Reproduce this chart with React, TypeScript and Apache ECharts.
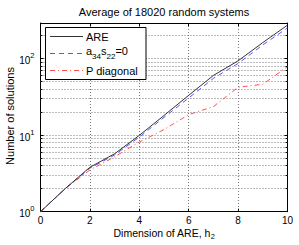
import React, { useEffect, useRef } from 'react';
import * as echarts from 'echarts';

const dims = [0, 1, 2, 3, 4, 5, 6, 7, 8, 9, 10];
const areValues = [1, 2.0, 3.8, 5.7, 9.9, 18, 33, 60, 93, 161, 272];
const a34Values = [1, 2.0, 3.7, 5.5, 9.4, 17, 30.5, 55, 86, 150, 250];
const pDiagValues = [1, 2.0, 3.5, 5.2, 8.1, 11.8, 18.5, 23.5, 42, 46, 78];
const minorYValues = [2, 3, 4, 5, 6, 7, 8, 9, 20, 30, 40, 50, 60, 70, 80, 90, 200];
const titleText = 'Average of 18020 random systems';
const xMin = 0;
const xMax = 10;
const xInterval = 2;
const yMin = 1;
const yMax = 290;

const FONT = "'Liberation Sans', Arial, Helvetica, sans-serif";
const BLACK = '#333';
const BLUE = '#5555ff';
const RED = '#ff5050';

export default function App() {
  const ref = useRef<HTMLDivElement>(null);
  useEffect(() => {
    if (!ref.current) return;
    const chart = echarts.init(ref.current, null, { renderer: 'svg' });
    const gridLine = { color: '#777', width: 1, type: [1, 2] as any };
    const sup = {
      b: { fontSize: 10, fontFamily: FONT, color: '#000', verticalAlign: 'bottom', lineHeight: 14 },
      s: { fontSize: 7.5, fontFamily: FONT, color: '#000', verticalAlign: 'top', lineHeight: 14 },
    };
    const minorTickLines: any[] = [];
    minorYValues.forEach((v) => {
      minorTickLines.push([{ coord: [xMin, v] }, { coord: [xMin + 0.08, v] }]);
      minorTickLines.push([{ coord: [xMax - 0.08, v] }, { coord: [xMax, v] }]);
    });
    const xy = (vals: number[]) => dims.map((d, i) => [d, vals[i]]);
    const option: any = {
      animation: false,
      backgroundColor: '#fff',
      textStyle: { fontFamily: FONT },
      grid: { left: 40.5, right: 11.5, top: 23, bottom: 33.3, outerBoundsMode: 'none', containLabel: false },
      xAxis: [
        {
          type: 'value', min: xMin, max: xMax, interval: xInterval,
          axisLine: { show: true, onZero: false, lineStyle: { color: '#000', width: 1 } },
          axisTick: { show: true, inside: true, length: 3, lineStyle: { color: '#000' } },
          axisLabel: { color: '#000', fontSize: 10, lineHeight: 8, fontFamily: FONT, margin: 5 },
          splitLine: { show: true, lineStyle: gridLine },
        },
        {
          type: 'value', min: xMin, max: xMax, interval: xInterval, position: 'top',
          axisLine: { show: true, onZero: false, lineStyle: { color: '#000', width: 1 } },
          axisTick: { show: true, inside: true, length: 3, lineStyle: { color: '#000' } },
          axisLabel: { show: false },
          splitLine: { show: false },
        },
      ],
      yAxis: [
        {
          type: 'log', logBase: 10, min: yMin, max: yMax,
          axisLine: { show: true, onZero: false, lineStyle: { color: '#000', width: 1 } },
          axisTick: { show: true, inside: true, length: 3, lineStyle: { color: '#000' } },
          axisLabel: {
            showMaxLabel: false,
            margin: 6,
            formatter: (v: number) => `{b|10}{s|${Math.round(Math.log10(v))}}`,
            rich: sup,
          },
          splitLine: { show: true, lineStyle: gridLine },
        },
        {
          type: 'log', logBase: 10, min: yMin, max: yMax, position: 'right',
          axisLine: { show: true, onZero: false, lineStyle: { color: '#000', width: 1 } },
          axisTick: { show: true, inside: true, length: 3, lineStyle: { color: '#000' } },
          axisLabel: { show: false },
          splitLine: { show: false },
        },
      ],
      series: [
        {
          type: 'line', name: 'minorGrid', data: [], silent: true, z: 1,
          markLine: {
            silent: true, symbol: 'none', label: { show: false },
            lineStyle: gridLine,
            data: minorYValues.map((v) => ({ yAxis: v })),
          },
        },
        {
          type: 'line', name: 'minorTicks', data: [], silent: true, z: 1,
          markLine: {
            silent: true, symbol: 'none', label: { show: false },
            lineStyle: { color: '#000', width: 1, type: 'solid' },
            data: minorTickLines,
          },
        },
        {
          type: 'line', name: 'ARE', data: xy(areValues), showSymbol: false, z: 5,
          lineStyle: { color: BLACK, width: 1, type: 'solid' },
        },
        {
          type: 'line', name: 'a34s22=0', data: xy(a34Values), showSymbol: false, z: 4,
          lineStyle: { color: BLUE, width: 1, type: [5, 4] },
        },
        {
          type: 'line', name: 'P diagonal', data: xy(pDiagValues), showSymbol: false, z: 3,
          lineStyle: { color: RED, width: 1, type: [5, 3, 1, 3] },
        },
      ],
      graphic: [
        {
          type: 'text', x: 164, y: 12, z: 10,
          style: { text: titleText, fontSize: 11, fontFamily: FONT, fill: '#000', align: 'center', verticalAlign: 'middle' },
        },
        {
          type: 'text', x: 164, y: 234, z: 10,
          style: {
            text: '{n|Dimension of ARE, h}{u|2}', align: 'center', verticalAlign: 'middle',
            rich: {
              n: { fontSize: 10.5, fontFamily: FONT, fill: '#000', verticalAlign: 'top', lineHeight: 13 },
              u: { fontSize: 7.5, fontFamily: FONT, fill: '#000', verticalAlign: 'bottom', lineHeight: 13 },
            },
          },
        },
        {
          type: 'text', x: 10, y: 116, rotation: Math.PI / 2, z: 10,
          style: { text: 'Number of solutions', fontSize: 11, fontFamily: FONT, fill: '#000', align: 'center', verticalAlign: 'middle' },
        },
        {
          type: 'rect', z: 20,
          shape: { x: 45.5, y: 27.5, width: 100.5, height: 52 },
          style: { fill: '#fff', stroke: '#000', lineWidth: 1 },
        },
        {
          type: 'line', z: 21, shape: { x1: 50, y1: 36.5, x2: 83, y2: 36.5 },
          style: { stroke: BLACK, lineWidth: 1 },
        },
        {
          type: 'line', z: 21, shape: { x1: 50, y1: 53.5, x2: 83, y2: 53.5 },
          style: { stroke: BLUE, lineWidth: 1, lineDash: [5, 4] },
        },
        {
          type: 'line', z: 21, shape: { x1: 50, y1: 70.5, x2: 83, y2: 70.5 },
          style: { stroke: RED, lineWidth: 1, lineDash: [5, 3, 1, 3] },
        },
        {
          type: 'text', x: 86, y: 36.5, z: 21,
          style: { text: 'ARE', fontSize: 11, fontFamily: FONT, fill: '#000', align: 'left', verticalAlign: 'middle' },
        },
        {
          type: 'text', x: 86, y: 52.5, z: 21,
          style: {
            text: '{n|a}{u|34}{n|s}{u|22}{n|=0}', align: 'left', verticalAlign: 'middle',
            rich: {
              n: { fontSize: 11, fontFamily: FONT, fill: '#000', verticalAlign: 'top', lineHeight: 15 },
              u: { fontSize: 8, fontFamily: FONT, fill: '#000', verticalAlign: 'bottom', lineHeight: 15 },
            },
          },
        },
        {
          type: 'text', x: 86, y: 70.5, z: 21,
          style: { text: 'P diagonal', fontSize: 11, fontFamily: FONT, fill: '#000', align: 'left', verticalAlign: 'middle' },
        },
      ],
    };
    chart.setOption(option);
    return () => chart.dispose();
  }, []);
  return <div ref={ref} style={{ position: 'fixed', left: 0, top: 0, width: 299, height: 245 }} />;
}
